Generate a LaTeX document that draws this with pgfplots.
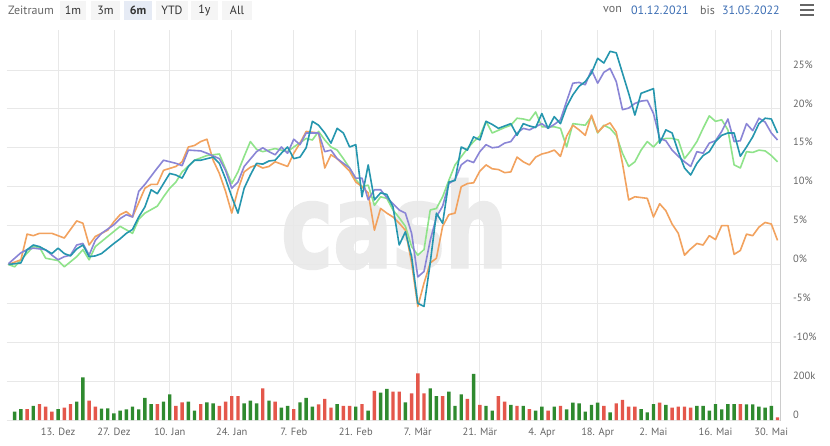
\documentclass[border=0pt]{standalone}
\usepackage{graphicx}
\usepackage{pgfplots}
\pgfplotsset{compat=1.18}
\usepackage{fontspec}
\setmainfont{PT Sans}
\newfontfamily\wmfont{DejaVu Sans}[BoldFeatures={FakeBold=2.5}]
\definecolor{cOr}{HTML}{F2A25E}
\definecolor{cGr}{HTML}{8FE38A}
\definecolor{cPu}{HTML}{8A85D6}
\definecolor{cTe}{HTML}{2596AE}
\definecolor{vG}{HTML}{2F8A2F}
\definecolor{vR}{HTML}{E4574B}
\definecolor{gridc}{HTML}{E8E8E8}
\definecolor{lbl}{HTML}{666666}
\definecolor{blu}{HTML}{3C6EB4}
\definecolor{wm}{HTML}{EBEBEB}
\definecolor{btn}{HTML}{F5F5F5}
\definecolor{btnsel}{HTML}{E6EBF5}
\definecolor{axc}{HTML}{CCCCCC}
\begin{document}
\begin{tikzpicture}
\begin{scope}[x=1pt,y=1pt]
\useasboundingbox[fill=white] (0,0) rectangle (830,445);
% top bar
\node[anchor=west,inner sep=0,text=lbl,font=\fontsize{12}{14}\selectfont] at (8,435) {Zeitraum};
\fill[btn] (60,425) rectangle (86,444);
\fill[btn] (91,425) rectangle (120,444);
\fill[btnsel] (124,425) rectangle (152,444);
\fill[btn] (156,425) rectangle (188,444);
\fill[btn] (191,425) rectangle (218,444);
\fill[btn] (222,425) rectangle (252,444);
\begin{scope}[every node/.style={inner sep=0,text=black!80,font=\fontsize{12}{14}\selectfont}]
\node at (73,435) {1m};
\node at (105.5,435) {3m};
\node[font=\fontsize{12}{14}\selectfont\bfseries] at (138,435) {6m};
\node at (172,435) {YTD};
\node at (204.5,435) {1y};
\node at (237,435) {All};
\end{scope}
\node[anchor=west,inner sep=0,text=lbl,font=\fontsize{12}{14}\selectfont] at (603,435) {von};
\node[anchor=west,inner sep=0,text=blu,font=\fontsize{12}{14}\selectfont] at (631,435) {01.12.2021};
\node[anchor=west,inner sep=0,text=lbl,font=\fontsize{12}{14}\selectfont] at (700,435) {bis};
\node[anchor=west,inner sep=0,text=blu,font=\fontsize{12}{14}\selectfont] at (722,435) {31.05.2022};
\foreach \yy in {440,435,430} {\draw[lbl,line width=2.4pt] (800,\yy) -- (814,\yy);}
% watermark
\node[anchor=south west,inner sep=0,text=wm] at (281,176) {\resizebox{226pt}{88pt}{\wmfont\bfseries cash}};
\end{scope}
% price pane
\begin{axis}[
  at={(7pt,85pt)}, anchor=south west, scale only axis,
  width=773pt, height=330pt,
  xmin=-0.24, xmax=124.4, ymin=-12.28, ymax=30.14,
  axis line style={draw=none}, tick style={draw=none},
  xtick={8,17,26,36,46,56,66,76,86,95,104,114,123}, xticklabels={},
  ytick={-10,-5,0,5,10,15,20,25},
  yticklabels={-10\%,-5\%,0\%,5\%,10\%,15\%,20\%,25\%},
  yticklabel pos=right,
  yticklabel style={anchor=west,inner sep=0pt,xshift=13pt,yshift=5.5pt,text=lbl,font=\fontsize{10.5}{12}\selectfont},
  grid=major, major grid style={gridc,line width=0.8pt},
  every axis plot/.append style={line width=1.6pt, line join=round, mark=none},
]
\addplot[cGr] coordinates {(0,0.0) (1,-0.3) (2,0.6) (4,2.3) (5,2.2) (6,0.8) (8,0.5) (9,-0.3) (11,1.0) (12,1.9) (13,0.6) (14,2.3) (16,3.6) (18,4.9) (20,4.0) (21,5.8) (22,6.6) (24,7.5) (25,8.7) (26,9.8) (27,10.6) (28,11.9) (30,13.4) (32,14.0) (34,14.2) (36,10.4) (37,11.9) (38,13.9) (39,15.8) (40,14.8) (41,14.5) (42,14.7) (43,14.9) (45,14.5) (46,15.1) (48,16.2) (49,16.0) (50,17.1) (51,16.0) (52,15.1) (53,14.7) (54,13.6) (55,12.4) (56,10.9) (57,10.0) (58,10.2) (59,7.6) (60,8.7) (61,8.5) (62,7.0) (63,6.0) (64,4.9) (65,2.3) (66,1.2) (67,1.9) (68,7.0) (69,7.2) (70,8.7) (71,10.8) (72,12.8) (74,14.9) (75,15.8) (76,16.5) (77,18.4) (78,16.9) (80,17.6) (81,17.9) (82,18.8) (83,18.7) (84,18.5) (85,19.6) (86,17.7) (87,17.7) (88,17.7) (89,17.5) (90,15.1) (91,18.1) (93,17.9) (94,19.0) (95,16.9) (96,17.9) (97,17.5) (98,16.6) (99,14.3) (100,12.6) (101,13.2) (102,14.7) (103,15.8) (104,15.1) (105,16.0) (106,16.2) (107,16.2) (108,16.0) (109,13.6) (110,14.6) (111,15.8) (112,17.5) (113,19.1) (114,18.4) (115,18.6) (116,17.3) (117,12.8) (118,12.4) (119,14.5) (120,14.4) (121,14.7) (122,14.6) (123,14.0) (124,13.2)};
\addplot[cOr] coordinates {(0,0.0) (1,0.3) (2,0.6) (3,3.9) (4,3.7) (5,4.0) (7,4.0) (8,3.7) (9,3.4) (11,5.6) (12,5.3) (13,2.5) (14,3.6) (16,4.4) (17,5.5) (18,6.4) (19,6.8) (20,6.1) (22,9.8) (23,10.3) (24,10.3) (25,12.1) (27,12.6) (28,13.2) (29,15.1) (30,15.3) (31,15.8) (32,16.1) (33,13.4) (34,11.7) (35,9.4) (36,6.6) (37,9.6) (38,11.9) (39,12.5) (40,12.8) (41,12.4) (42,12.6) (43,13.2) (45,12.6) (46,14.3) (47,15.6) (48,17.1) (50,16.9) (51,12.4) (52,14.1) (53,13.6) (54,12.8) (55,12.0) (56,10.6) (57,10.0) (58,9.2) (59,4.4) (60,7.2) (61,6.6) (62,6.1) (63,5.3) (64,4.4) (65,0.2) (66,-5.4) (67,-2.4) (68,0.2) (69,0.8) (70,4.9) (71,6.4) (72,6.6) (73,10.0) (74,10.4) (75,10.5) (76,12.0) (77,12.8) (78,12.3) (79,12.2) (80,11.8) (81,11.9) (82,13.8) (83,13.2) (84,12.8) (85,13.8) (86,14.2) (87,14.4) (88,14.7) (89,13.9) (90,16.5) (91,17.9) (92,17.3) (93,16.6) (94,19.2) (95,17.0) (96,17.8) (97,18.2) (98,17.0) (99,13.0) (100,8.3) (101,8.7) (102,8.6) (103,8.5) (104,6.1) (105,7.8) (106,6.9) (107,5.2) (108,4.0) (109,1.2) (110,2.0) (111,2.7) (112,2.5) (113,3.7) (114,3.2) (115,5.0) (116,5.0) (117,1.3) (118,1.8) (119,3.9) (120,3.7) (121,4.8) (122,5.4) (123,5.2) (124,3.1)};
\addplot[cPu] coordinates {(0,0.1) (1,0.8) (2,1.5) (3,1.9) (4,2.1) (6,1.9) (7,1.2) (8,0.6) (9,1.0) (10,1.2) (11,2.5) (12,2.7) (13,1.2) (14,3.1) (15,4.0) (17,5.1) (18,5.9) (19,6.4) (20,6.1) (21,9.4) (22,10.3) (24,12.4) (25,13.4) (26,13.2) (27,13.0) (28,12.7) (29,14.7) (31,14.6) (32,14.3) (34,13.6) (35,12.1) (36,9.8) (37,10.6) (38,12.6) (40,14.5) (41,15.0) (42,14.5) (43,14.1) (44,15.1) (45,14.3) (46,16.1) (47,15.4) (48,16.9) (50,16.9) (51,14.5) (52,14.7) (53,13.6) (54,13.0) (55,12.4) (56,11.1) (57,11.1) (58,8.3) (59,9.6) (60,9.6) (61,8.6) (62,7.8) (63,7.0) (64,6.6) (65,4.0) (66,-1.6) (67,-0.9) (68,3.1) (69,6.1) (70,7.5) (71,10.4) (72,10.9) (73,12.8) (74,13.4) (75,13.1) (76,14.5) (77,15.4) (78,15.0) (79,15.1) (80,15.6) (81,15.8) (82,16.9) (83,17.5) (84,17.3) (85,17.7) (86,18.1) (87,17.5) (88,18.0) (89,18.6) (90,21.0) (91,23.3) (92,23.4) (93,23.1) (94,25.0) (95,23.3) (96,24.7) (97,25.2) (98,23.5) (99,19.9) (100,20.1) (101,20.7) (102,21.0) (103,21.1) (104,19.4) (105,16.2) (106,15.9) (107,14.7) (108,13.9) (109,13.2) (110,12.6) (111,14.5) (112,14.3) (113,15.6) (114,15.9) (115,17.1) (116,18.7) (117,15.8) (118,15.9) (119,18.1) (120,17.2) (121,18.8) (122,18.3) (123,16.9) (124,16.0)};
\addplot[cTe] coordinates {(0,0.0) (2,0.2) (3,1.9) (4,2.5) (5,2.3) (7,1.4) (8,2.1) (9,1.4) (10,1.1) (11,2.0) (12,2.5) (13,1.0) (14,1.1) (15,1.4) (17,2.7) (18,3.3) (19,4.0) (20,4.5) (21,6.1) (22,7.4) (23,9.6) (24,9.1) (26,11.7) (27,11.5) (28,11.1) (29,12.6) (30,13.4) (31,13.4) (32,13.6) (33,13.8) (34,13.0) (35,11.0) (36,8.7) (37,6.6) (38,9.8) (39,11.5) (40,13.0) (41,12.9) (42,13.3) (43,13.4) (44,14.3) (45,15.1) (46,13.6) (47,13.8) (48,15.0) (49,18.4) (50,17.9) (51,16.9) (52,15.6) (53,17.5) (54,16.9) (55,15.1) (56,15.4) (57,8.7) (58,12.8) (59,8.3) (60,9.2) (61,9.0) (62,7.4) (63,2.5) (64,4.2) (65,1.0) (66,-5.0) (67,-5.4) (68,0.2) (69,6.6) (70,5.3) (71,10.6) (72,10.8) (73,15.1) (74,14.7) (75,16.4) (76,16.0) (77,18.4) (78,18.0) (79,17.5) (80,17.8) (81,18.1) (82,16.6) (83,18.1) (84,17.8) (85,17.6) (86,19.4) (87,17.5) (88,19.0) (89,18.1) (90,20.3) (91,21.8) (92,22.9) (93,23.5) (94,24.6) (95,26.5) (96,25.9) (97,27.4) (98,27.2) (99,24.6) (100,22.0) (101,19.2) (102,22.0) (103,22.3) (104,22.6) (105,15.6) (106,17.3) (107,16.9) (108,14.5) (109,12.4) (110,11.5) (111,13.0) (112,14.0) (113,14.5) (114,15.8) (115,16.6) (116,16.9) (117,16.9) (118,13.9) (119,15.1) (120,16.4) (121,18.1) (122,18.8) (123,18.7) (124,16.9)};
\end{axis}
% volume pane
\begin{axis}[
  at={(7pt,25pt)}, anchor=south west, scale only axis,
  width=773pt, height=60pt,
  xmin=-0.24, xmax=124.4, ymin=0, ymax=307.7,
  axis line style={draw=none}, tick style={draw=none},
  xtick={8,17,26,36,46,56,66,76,86,95,104,114,123},
  xticklabels={13. Dez,27. Dez,10. Jan,24. Jan,7. Feb,21. Feb,7. Mär,21. Mär,4. Apr,18. Apr,2. Mai,16. Mai,30. Mai},
  xticklabel style={inner sep=0pt,yshift=-8pt,text=lbl,font=\fontsize{10.5}{12}\selectfont},
  ytick={0,200}, yticklabels={0,200k},
  yticklabel pos=right,
  yticklabel style={anchor=west,inner sep=0pt,xshift=13pt,yshift=5pt,text=lbl,font=\fontsize{10.5}{12}\selectfont},
  grid=major, major grid style={gridc,line width=0.8pt},
]
\addplot[ybar,bar width=3.4pt,bar shift=0pt,fill=vG,draw=none] coordinates {(1,43) (2,56) (4,72) (8,56) (11,94) (12,219) (15,58) (16,60) (17,34) (18,48) (19,55) (20,68) (21,55) (22,113) (23,82) (25,94) (26,132) (29,94) (30,48) (32,91) (33,85) (38,85) (39,99) (40,85) (42,99) (44,63) (45,72) (47,91) (48,113) (49,68) (53,82) (56,68) (58,48) (60,140) (61,159) (64,91) (68,162) (69,123) (71,145) (72,72) (73,132) (75,236) (77,72) (78,48) (81,77) (83,72) (85,48) (86,68) (88,68) (90,55) (91,89) (92,85) (93,43) (94,77) (95,89) (97,39) (102,56) (103,39) (104,82) (106,77) (111,72) (112,72) (113,48) (114,82) (115,55) (116,82) (117,82) (119,80) (120,80) (121,68) (122,63) (123,72)};
\addplot[ybar,bar width=3.4pt,bar shift=0pt,fill=vR,draw=none] coordinates {(3,56) (5,82) (6,68) (7,43) (9,63) (10,82) (13,99) (14,68) (24,82) (27,72) (28,91) (31,82) (34,72) (35,94) (36,123) (37,123) (41,162) (43,94) (46,56) (50,80) (51,108) (52,63) (54,72) (55,72) (57,82) (59,149) (62,145) (63,145) (65,137) (66,239) (67,137) (70,123) (74,108) (76,77) (79,123) (80,94) (82,72) (84,56) (87,48) (89,72) (96,72) (98,85) (99,103) (100,68) (101,68) (105,89) (107,63) (108,68) (109,68) (110,63) (118,82) (124,14)};
\end{axis}
\draw[axc,line width=1pt] (780pt,24pt) -- (780pt,415pt);
\end{tikzpicture}
\end{document}
